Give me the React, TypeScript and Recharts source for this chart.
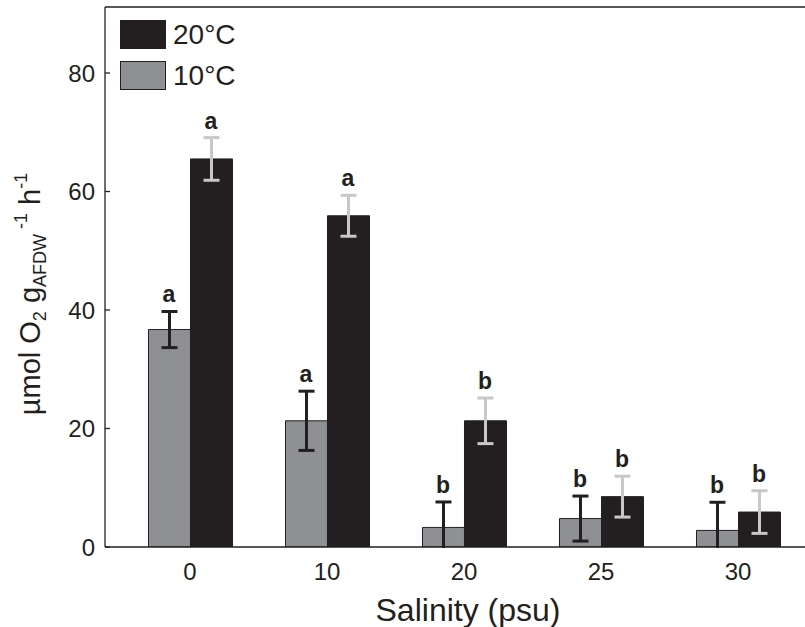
import React from 'react';
import * as Recharts from 'recharts';
import { ComposedChart, Bar, XAxis, YAxis, ErrorBar, Scatter, ReferenceLine, Legend, Label } from 'recharts';

const categories = ['0', '10', '20', '25', '30'];
const rate10 = [36.7, 21.3, 3.3, 4.8, 2.8];
const err10 = [3.05, 5.0, 4.3, 3.8, 4.75];
const rate20 = [65.5, 55.9, 21.3, 8.5, 5.9];
const err20 = [3.6, 3.45, 3.85, 3.45, 3.6];
const letters10 = ['a', 'a', 'b', 'b', 'b'];
const letters20 = ['a', 'a', 'b', 'b', 'b'];
const yTicks = [0, 20, 40, 60, 80];
const xTicks = [0, 1, 2, 3, 4];
const legendItems = [
  { label: '20°C', color: '#231f20' },
  { label: '10°C', color: '#8e9093' },
];

const Y_MAX = 91.14;
const X_MIN = -0.6204;
const X_MAX = 4.489;

const FONT = '"Liberation Sans", Arial, Helvetica, sans-serif';
const DARK = '#231f20';
const GRAY = '#8e9093';
const LIGHT = '#c8c8c8';

const data = categories.map((c, i) => ({
  idx: i,
  cat: c,
  t10: rate10[i],
  e10: err10[i],
  t20: rate20[i],
  e20: err20[i],
  top10: rate10[i] + err10[i],
  top20: rate20[i] + err20[i],
  l10: letters10[i],
  l20: letters20[i],
}));

const usePlotAreaSafe: () => any = (Recharts as any).usePlotArea || (() => null);

const PlotClip = () => {
  const pa = usePlotAreaSafe();
  const x = pa ? pa.x : 105;
  const y = pa ? pa.y : 7;
  const w = pa ? pa.width : 700;
  const h = pa ? pa.height : 540;
  return (
    <defs>
      <clipPath id="plot-area-clip" clipPathUnits="userSpaceOnUse">
        <rect x={x - 20} y={y - 20} width={w + 40} height={h + 21} />
      </clipPath>
    </defs>
  );
};

const makeLetter = (key: string, dx: number) => (props: any) => {
  const { cx, cy, payload } = props;
  if (cx == null || cy == null) return <g />;
  return (
    <text
      x={cx + dx}
      y={cy - 9}
      textAnchor="middle"
      fontFamily={FONT}
      fontWeight="bold"
      fontSize={23}
      fill={DARK}
    >
      {payload[key]}
    </text>
  );
};

const YTitle = (props: any) => {
  const vb = props.viewBox || { x: 0, y: 7, width: 105, height: 540 };
  const cx = vb.x + 40;
  const cy = vb.y + vb.height / 2 + 17;
  return (
    <text
      transform={`rotate(-90, ${cx}, ${cy})`}
      x={cx}
      y={cy}
      textAnchor="middle"
      fontFamily={FONT}
      fontSize={29}
      fill={DARK}
    >
      <tspan>µmol O</tspan>
      <tspan fontSize={18} dy={6}>2</tspan>
      <tspan dy={-6}> g</tspan>
      <tspan fontSize={18} dy={6}>AFDW</tspan>
      <tspan fontSize={18} dy={-19}>{' -1'}</tspan>
      <tspan dy={13}> h</tspan>
      <tspan fontSize={18} dy={-13}>-1</tspan>
    </text>
  );
};

const XTitle = (props: any) => {
  const vb = props.viewBox || { x: 105, y: 547, width: 700, height: 80 };
  return (
    <text
      x={vb.x + vb.width / 2 + 13}
      y={vb.y + 74}
      textAnchor="middle"
      fontFamily={FONT}
      fontSize={32}
      fill={DARK}
    >
      Salinity (psu)
    </text>
  );
};

const LegendContent = () => (
  <div style={{ fontFamily: FONT }}>
    {legendItems.map((it, i) => (
      <div
        key={it.label}
        style={{ display: 'flex', alignItems: 'center', height: 28, marginTop: i === 0 ? 0 : 13 }}
      >
        <div
          style={{
            width: 44,
            height: 27,
            background: it.color,
            border: `1px solid ${DARK}`,
          }}
        />
        <span style={{ marginLeft: 7, fontSize: 28, lineHeight: '28px', color: DARK, paddingTop: 2 }}>
          {it.label}
        </span>
      </div>
    ))}
  </div>
);

export default function App() {
  return (
    <div style={{ position: 'absolute', left: 0, top: 0, width: 805, height: 627, background: '#fff' }}>
      <ComposedChart
        width={805}
        height={627}
        data={data}
        margin={{ top: 7, right: 0, bottom: 0, left: 0 }}
        barSize={42}
        barGap={0}
      >
        <PlotClip />
        <XAxis
          type="number"
          dataKey="idx"
          domain={[X_MIN, X_MAX]}
          ticks={xTicks}
          interval={0}
          tickFormatter={(v: number) => categories[v]}
          height={80}
          tickLine={false}
          tickSize={6}
          tickMargin={10}
          axisLine={{ stroke: DARK, strokeWidth: 1.3 }}
          tick={{ fontFamily: FONT, fontSize: 24, fill: DARK }}
        >
          <Label content={XTitle} />
        </XAxis>
        <YAxis
          type="number"
          domain={[0, Y_MAX]}
          allowDataOverflow
          ticks={yTicks}
          interval={0}
          width={105}
          tickSize={-5}
          tickMargin={15}
          axisLine={{ stroke: DARK, strokeWidth: 1.3 }}
          tickLine={{ stroke: DARK, strokeWidth: 1.3 }}
          tick={{ fontFamily: FONT, fontSize: 24, fill: DARK }}
        >
          <Label content={YTitle} />
        </YAxis>
        <ReferenceLine y={Y_MAX} stroke={DARK} strokeWidth={1.3} />
        <Bar dataKey="t10" fill={GRAY} stroke={DARK} strokeWidth={1} isAnimationActive={false}>
          <ErrorBar dataKey="e10" width={8} stroke={DARK} strokeWidth={3} clipPath="url(#plot-area-clip)" />
        </Bar>
        <Bar dataKey="t20" fill={DARK} stroke={DARK} strokeWidth={1} isAnimationActive={false}>
          <ErrorBar dataKey="e20" width={8} stroke={LIGHT} strokeWidth={3} clipPath="url(#plot-area-clip)" />
        </Bar>
        <Scatter dataKey="top10" shape={makeLetter('l10', -21)} isAnimationActive={false} />
        <Scatter dataKey="top20" shape={makeLetter('l20', 21)} isAnimationActive={false} />
        <Legend
          layout="vertical"
          align="center"
          verticalAlign="middle"
          content={LegendContent}
          wrapperStyle={{ left: 120, top: 20, width: 'auto', height: 'auto' }}
        />
      </ComposedChart>
    </div>
  );
}
